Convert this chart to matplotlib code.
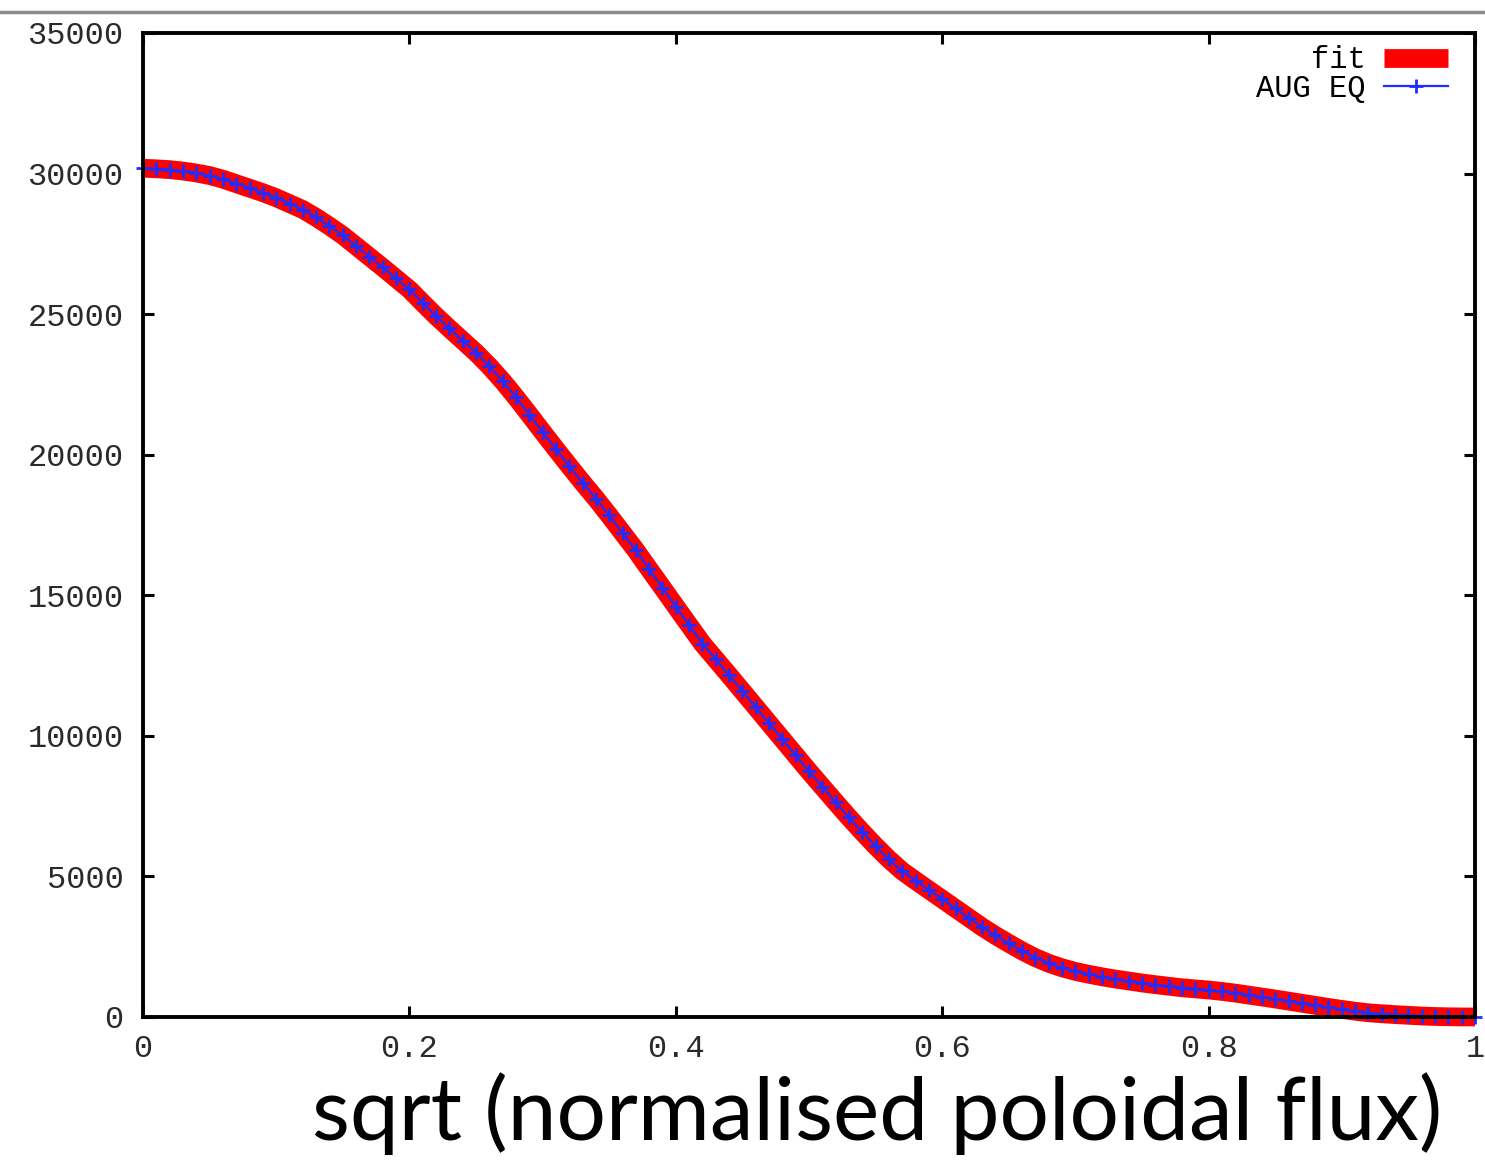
import numpy as np
import matplotlib
matplotlib.use("Agg")
import matplotlib.pyplot as plt
from matplotlib.lines import Line2D

# ---- data ----
psi_sqrt = [round(0.01 * i, 2) for i in range(101)]
pressure = [
    30190, 30170, 30140, 30090, 30020, 29930, 29800, 29640, 29480, 29320,
    29140, 28930, 28720, 28440, 28130, 27800, 27420, 27040, 26660, 26270,
    25880, 25400, 24930, 24490, 24060, 23630, 23150, 22620, 22040, 21430,
    20810, 20200, 19600, 19010, 18440, 17840, 17220, 16600, 15930, 15270,
    14600, 13940, 13280, 12720, 12160, 11590, 11020, 10450, 9880, 9310,
    8740, 8190, 7640, 7100, 6580, 6080, 5610, 5190, 4850, 4520,
    4190, 3860, 3530, 3200, 2900, 2620, 2350, 2110, 1910, 1750,
    1620, 1520, 1430, 1350, 1280, 1210, 1150, 1095, 1040, 1000,
    960, 910, 850, 780, 710, 640, 565, 490, 415, 340,
    270, 205, 150, 115, 85, 60, 35, 18, 8, 2,
    0,
]
x_ticks = [0, 0.2, 0.4, 0.6, 0.8, 1]
x_ticklabels = ["0", "0.2", "0.4", "0.6", "0.8", "1"]
y_ticks = [0, 5000, 10000, 15000, 20000, 25000, 30000, 35000]
y_ticklabels = [str(v) for v in y_ticks]
series_labels = ["fit", "AUG EQ"]

W, H = 1485, 1162
fig = plt.figure(figsize=(W / 100, H / 100), dpi=100)
ax = fig.add_axes([143 / W, 1 - 1017 / H, (1475 - 143) / W, (1017 - 33) / H])

tick_font = "Liberation Mono"

ax.plot(psi_sqrt, pressure, color="#ff0000", lw=13.5, solid_capstyle="butt",
        solid_joinstyle="round", label=series_labels[0], zorder=2, clip_on=False)
ax.plot(psi_sqrt, pressure, color="#1f2eff", lw=1.6, marker="+", ms=10, mew=2.0,
        label=series_labels[1], zorder=3, clip_on=False)

ax.set_xlim(0, 1)
ax.set_ylim(0, 35000)
ax.set_xticks(x_ticks)
ax.set_xticklabels(x_ticklabels, fontfamily=tick_font, fontsize=23)
ax.set_yticks(y_ticks)
ax.set_yticklabels(y_ticklabels, fontfamily=tick_font, fontsize=23)
ax.tick_params(direction="in", length=8, width=2.2, top=True, right=True,
               pad=12, colors="black", labelcolor="#2a2a2a")
ax.tick_params(axis="y", pad=14)
for s in ax.spines.values():
    s.set_linewidth(2.8)
    s.set_color("black")
    s.set_zorder(4)

leg = ax.legend(loc="upper right", bbox_to_anchor=(1 - 15 / 1332, 1.0),
                frameon=False, markerfirst=False,
                handlelength=2.1, handletextpad=0.6, labelspacing=-0.05,
                borderaxespad=0.0, prop={"family": tick_font, "size": 22})

fig.text(1442 / W, 1 - 1140 / H, "sqrt (normalised poloidal flux)",
         ha="right", va="baseline", fontsize=63, family="Lato", color="black")

fig.add_artist(Line2D([0, 1], [1 - 12 / H, 1 - 12 / H], transform=fig.transFigure,
                      color="#8c8c8c", lw=2.5))

fig.savefig("out.png", dpi=100)
